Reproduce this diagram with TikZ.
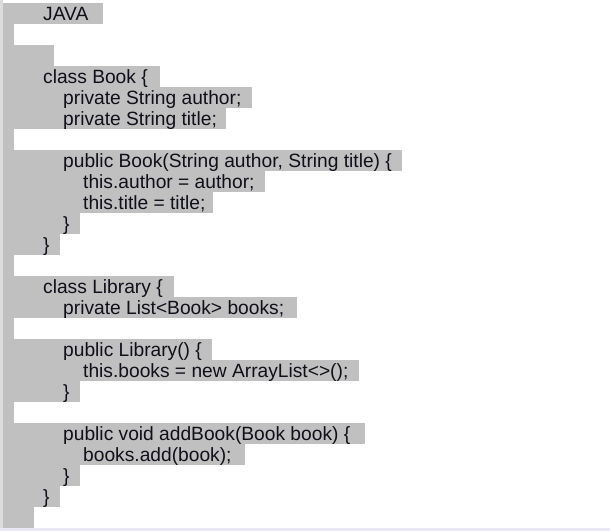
\documentclass[tikz,border=0pt]{standalone}
\usepackage{fontspec}
\setmainfont{Liberation Sans}
\definecolor{hl}{HTML}{C0C0C0}
\definecolor{strip}{HTML}{DCDCDC}
\definecolor{lav}{HTML}{E8E8F8}
\definecolor{ink}{HTML}{10101A}
\begin{document}
\begin{tikzpicture}[x=1pt,y=-1pt,
  code/.style={anchor=base west,inner sep=0pt,text=ink,font=\fontsize{19.2}{21}\selectfont}]
\path[use as bounding box] (0,0) rectangle (610,531);
\fill[white] (0,0) rectangle (610,531);
\fill[strip] (0,0) rectangle (3,528);
\fill[lav] (0,528) rectangle (610,531);
% highlight bars: line index / right end
\foreach \i/\r in {0/103,1/14,2/54,3/160,4/252,5/226,6/14,7/402,8/265,9/213,10/80,11/60,12/14,13/174,14/297,15/14,16/212,17/359,18/80,19/14,20/365,21/245,22/80,23/60,24/34}
  \fill[hl] (3,{3+21*\i}) rectangle (\r,{24+21*\i});
\node[code] (l0)  at (43,20)  {JAVA};
\node[code] (l3)  at (43,83)  {class Book \{};
\node[code] (l4)  at (63,104) {private String author;};
\node[code] (l5)  at (63,125) {private String title;};
\node[code] (l7)  at (63,167) {public Book(String author, String title) \{};
\node[code] (l8)  at (83,188) {this.author = author;};
\node[code] (l9)  at (83,209) {this.title = title;};
\node[code] (l10) at (63,230) {\}};
\node[code] (l11) at (43,251) {\}};
\node[code] (l13) at (43,293) {class Library \{};
\node[code] (l14) at (63,314) {private List<Book> books;};
\node[code] (l16) at (63,356) {public Library() \{};
\node[code] (l17) at (83,377) {this.books = new ArrayList<>();};
\node[code] (l18) at (63,398) {\}};
\node[code] (l20) at (63,440) {public void addBook(Book book) \{};
\node[code] (l21) at (83,461) {books.add(book);};
\node[code] (l22) at (63,482) {\}};
\node[code] (l23) at (43,503) {\}};
\end{tikzpicture}
\end{document}
